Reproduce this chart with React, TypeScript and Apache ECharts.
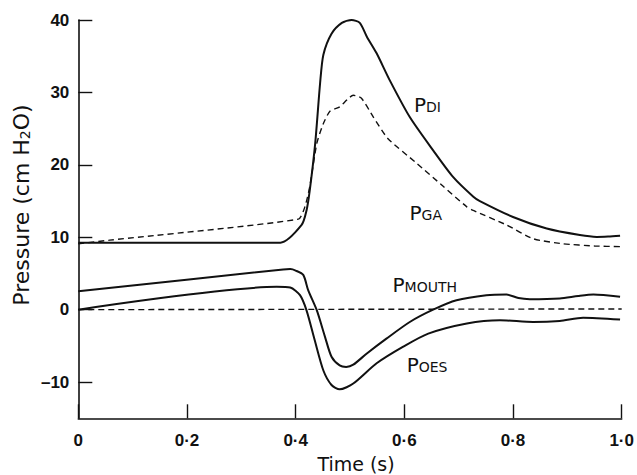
import React, { useEffect, useRef } from 'react';
import * as echarts from 'echarts';

const xTicks = [0, 0.2, 0.4, 0.6, 0.8, 1.0];
const yTicks = [-10, 0, 10, 20, 30, 40];

// [time (s), pressure (cm H2O)]
const pdi = [
  [0, 9.25], [0.372, 9.25], [0.411, 11.7], [0.42, 13.7], [0.426, 16.5], [0.436, 23],
  [0.445, 31.3], [0.451, 35.2], [0.466, 38.1], [0.485, 39.6], [0.503, 40.0], [0.518, 39.6],
  [0.531, 37.7], [0.549, 35.4], [0.573, 31.7], [0.61, 26.6], [0.653, 22.0], [0.69, 18.3],
  [0.727, 15.6], [0.739, 15.0], [0.8, 12.8], [0.862, 11.2], [0.923, 10.3], [0.954, 10.05],
  [0.975, 10.1], [0.997, 10.2],
];
const pga = [
  [0, 9.1], [0.058, 9.6], [0.405, 12.5], [0.417, 14.2], [0.426, 17], [0.439, 23],
  [0.451, 25.7], [0.463, 27.4], [0.481, 28.0], [0.506, 29.6], [0.521, 29.2], [0.543, 26.6],
  [0.57, 23.6], [0.623, 20.2], [0.672, 17], [0.715, 14.2], [0.727, 13.7], [0.788, 11.7],
  [0.837, 9.8], [0.892, 9.1], [0.95, 8.8], [0.997, 8.7],
];
const pmouth = [
  [0, 2.55], [0.377, 5.55], [0.39, 5.6], [0.4, 5.4], [0.414, 4.8], [0.423, 2.7],
  [0.439, -0.1], [0.454, -3.75], [0.466, -6.5], [0.481, -7.7], [0.493, -7.9], [0.506, -7.6],
  [0.531, -6.05], [0.567, -4], [0.61, -1.7], [0.653, 0], [0.696, 1.3], [0.751, 2.0],
  [0.788, 2.1], [0.81, 1.6], [0.831, 1.45], [0.886, 1.55], [0.92, 1.9], [0.948, 2.1],
  [0.997, 1.8],
];
const poes = [
  [0, 0], [0.365, 3.15], [0.39, 3.05], [0.408, 2.0], [0.42, -0.1], [0.435, -4.2],
  [0.451, -8.4], [0.466, -10.4], [0.481, -11.0], [0.506, -10.2], [0.549, -7.4],
  [0.598, -5.1], [0.644, -3.3], [0.715, -1.9], [0.776, -1.45], [0.837, -1.7],
  [0.886, -1.55], [0.929, -1.1], [0.997, -1.35],
];
const zeroLine = [[0, 0], [1.0, 0.1]];

const FONT = 'DejaVu Sans';
const TICK_FONT = 'Liberation Sans';

function fmtX(v: number) {
  if (v === 0) return '0';
  return v.toFixed(1).replace('.', '\u00b7');
}
function fmtY(v: number) {
  return v < 0 ? '\u2013' + Math.abs(v) : String(v);
}

function label(text: string, small: string, x: number, y: number) {
  return {
    type: 'text',
    x,
    y,
    style: {
      text: `{p|${text}}{s|${small}}`,
      verticalAlign: 'bottom',
      align: 'left',
      rich: {
        p: { fontFamily: FONT, fontSize: 20, height: 20, lineHeight: 20, verticalAlign: 'bottom', fill: '#111' },
        s: { fontFamily: FONT, fontSize: 14, height: 16, lineHeight: 20, verticalAlign: 'bottom', fill: '#111' },
      },
    },
  };
}

export default function App() {
  const ref = useRef<HTMLDivElement>(null);
  useEffect(() => {
    const chart = echarts.init(ref.current!, null, { renderer: 'svg' });
    const solid = { color: '#111', width: 2 };
    const dashed = { color: '#111', width: 1.4, type: [6, 4] };
    chart.setOption({
      animation: false,
      backgroundColor: '#fff',
      grid: { left: 78.3, right: 15.3, top: 20, bottom: 56.7 },
      xAxis: {
        type: 'value',
        min: 0,
        max: 1,
        interval: 0.2,
        splitLine: { show: false },
        axisLine: { onZero: false, lineStyle: { color: '#111', width: 1.6 } },
        axisTick: { inside: true, length: 14, customValues: xTicks, lineStyle: { color: '#111', width: 1.4 } },
        axisLabel: {
          customValues: xTicks,
          formatter: fmtX,
          margin: 14,
          color: '#111',
          fontFamily: TICK_FONT,
          fontWeight: 'bold',
          fontSize: 17,
        },
      },
      yAxis: {
        type: 'value',
        min: -15,
        max: 40,
        splitLine: { show: false },
        axisLine: { show: true, onZero: false, lineStyle: { color: '#111', width: 1.6 } },
        axisTick: { show: true, inside: true, length: 14, customValues: yTicks, lineStyle: { color: '#111', width: 1.4 } },
        axisLabel: {
          customValues: yTicks,
          formatter: fmtY,
          margin: 9,
          color: '#111',
          fontFamily: TICK_FONT,
          fontWeight: 'bold',
          fontSize: 17,
        },
      },
      graphic: [
        {
          type: 'text',
          x: 20,
          y: 205,
          rotation: Math.PI / 2,
          style: {
            text: '{n|Pressure (cm H}{sub|2}{n|O)}',
            align: 'center',
            verticalAlign: 'middle',
            rich: {
              n: { fontFamily: FONT, fontSize: 22, lineHeight: 24, verticalAlign: 'bottom', fill: '#111' },
              sub: { fontFamily: FONT, fontSize: 14, lineHeight: 10, verticalAlign: 'bottom', fill: '#111' },
            },
          },
        },
        {
          type: 'text',
          x: 356,
          y: 464,
          style: {
            text: 'Time (s)',
            align: 'center',
            verticalAlign: 'middle',
            fontFamily: FONT,
            fontSize: 19,
            fill: '#111',
          },
        },
        label('P', 'DI', 414, 115),
        label('P', 'GA', 409.5, 223),
        label('P', 'MOUTH', 392.5, 295),
        label('P', 'OES', 406.7, 375),
      ],
      series: [
        { name: 'Pdi', type: 'line', data: pdi, symbol: 'none', smooth: 0.25, clip: false, lineStyle: solid },
        { name: 'Pga', type: 'line', data: pga, symbol: 'none', smooth: 0.2, lineStyle: dashed },
        { name: 'Pmouth', type: 'line', data: pmouth, symbol: 'none', smooth: 0.25, lineStyle: solid },
        { name: 'Poes', type: 'line', data: poes, symbol: 'none', smooth: 0.25, lineStyle: solid },
        { name: 'Zero', type: 'line', data: zeroLine, symbol: 'none', lineStyle: dashed },
      ],
    });
    return () => chart.dispose();
  }, []);
  return (
    <div
      ref={ref}
      style={{ position: 'absolute', left: 0, top: 0, width: 637, height: 475, background: '#fff' }}
    />
  );
}
